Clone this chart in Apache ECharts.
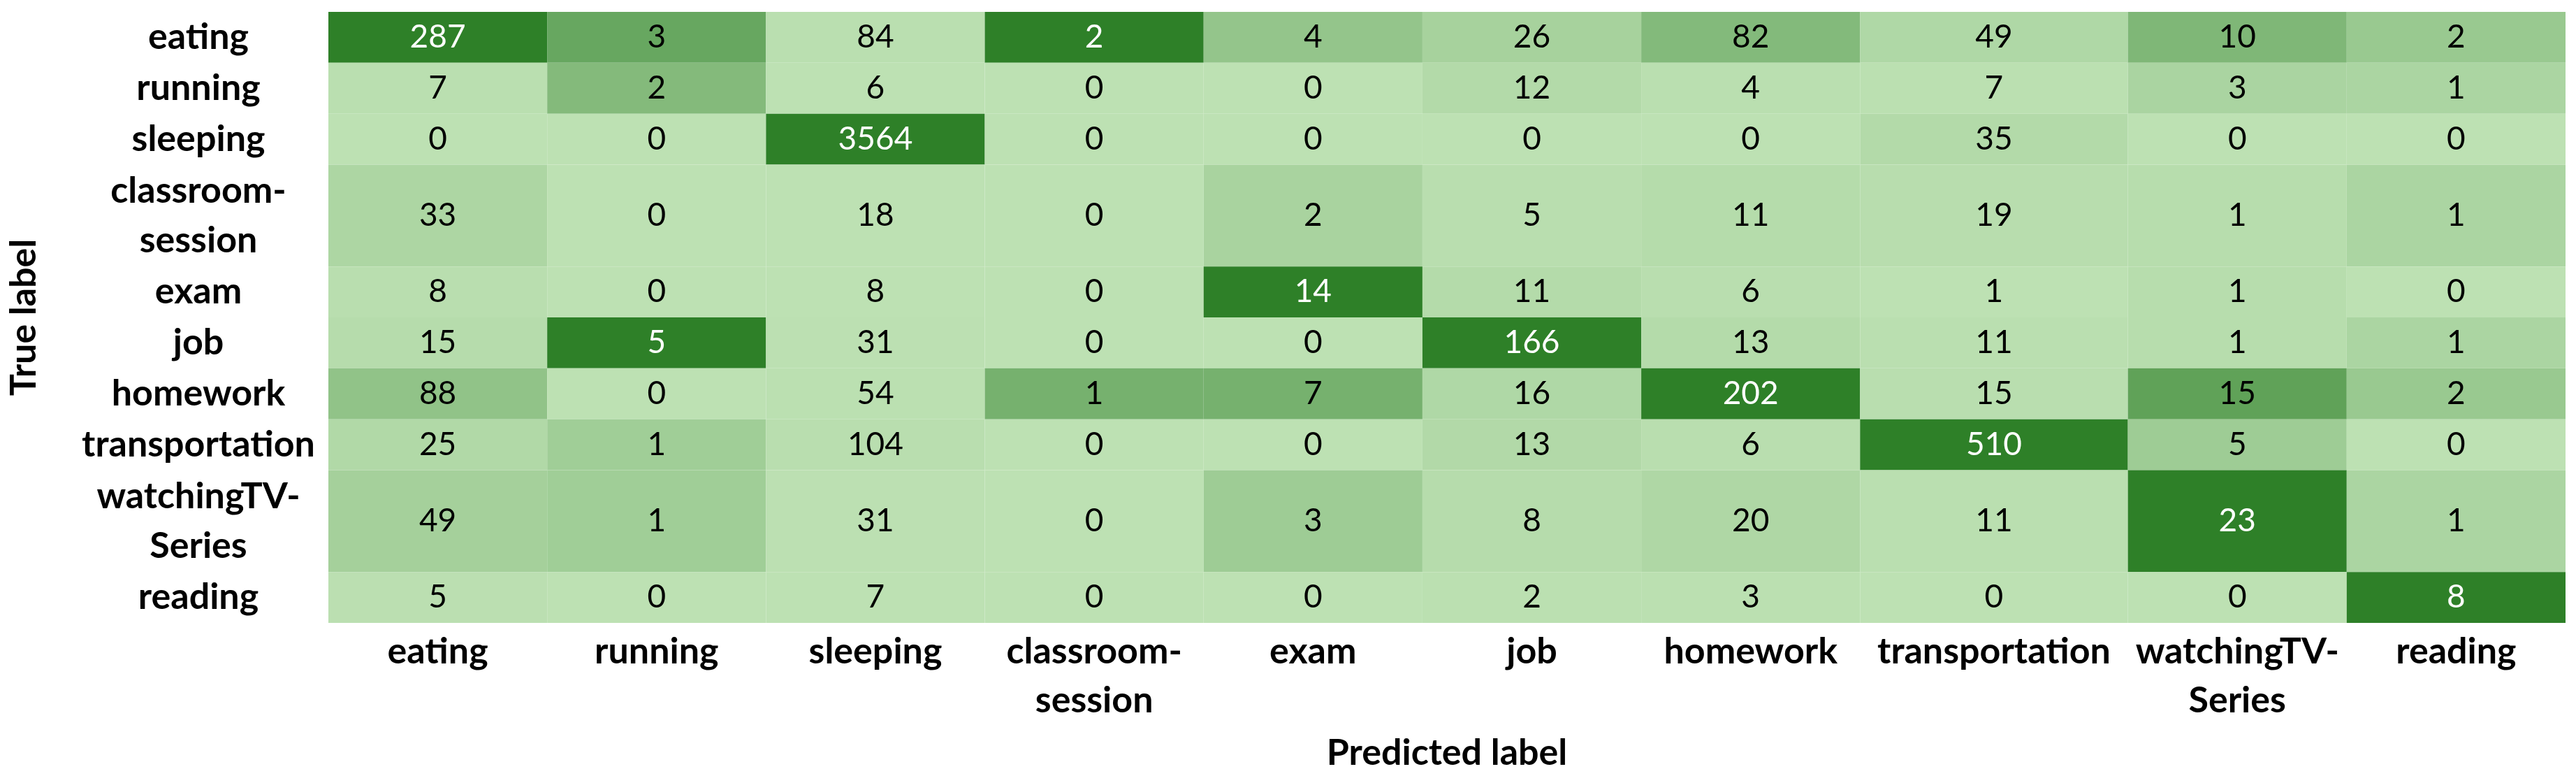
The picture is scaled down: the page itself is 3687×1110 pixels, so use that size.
<!DOCTYPE html>
<html>
<head>
<meta charset="utf-8">
<title>Confusion matrix</title>
<script src="https://cdn.jsdelivr.net/npm/echarts@6/dist/echarts.min.js"></script>
<style>
  html, body { margin: 0; padding: 0; background: #fff; }
  #main { width: 3687px; height: 1110px; }
</style>
</head>
<body>
<div id="main"></div>
<script>
// class names (rows = true label, columns = predicted label)
var classNames = ['eating', 'running', 'sleeping', 'classroom-\nsession', 'exam', 'job',
  'homework', 'transportation', 'watchingTV-\nSeries', 'reading']

// counts, one array per true label
var eating = [287, 3, 84, 2, 4, 26, 82, 49, 10, 2]
var running = [7, 2, 6, 0, 0, 12, 4, 7, 3, 1]
var sleeping = [0, 0, 3564, 0, 0, 0, 0, 35, 0, 0]
var classroomSession = [33, 0, 18, 0, 2, 5, 11, 19, 1, 1]
var exam = [8, 0, 8, 0, 14, 11, 6, 1, 1, 0]
var job = [15, 5, 31, 0, 0, 166, 13, 11, 1, 1]
var homework = [88, 0, 54, 1, 7, 16, 202, 15, 15, 2]
var transportation = [25, 1, 104, 0, 0, 13, 6, 510, 5, 0]
var watchingTVSeries = [49, 1, 31, 0, 3, 8, 20, 11, 23, 1]
var reading = [5, 0, 7, 0, 0, 2, 3, 0, 0, 8]

var counts = [eating, running, sleeping, classroomSession, exam, job,
  homework, transportation, watchingTVSeries, reading]

// cell sizes in axis units (wider transportation column, two-line rows are taller)
var colSpan = [1, 1, 1, 1, 1, 1, 1, 1.224, 1, 1]
var rowSpan = [1, 1, 1, 2, 1, 1, 1, 1, 2, 1]

function starts(spans) {
  var out = []
  var acc = 0
  spans.forEach(function (s) { out.push(acc); acc += s })
  return out
}
var colStart = starts(colSpan)
var rowStart = starts(rowSpan)
var colTotal = colStart[colStart.length - 1] + colSpan[colSpan.length - 1]
var rowTotal = rowStart[rowStart.length - 1] + rowSpan[rowSpan.length - 1]
var colCenters = colStart.map(function (s, i) { return s + colSpan[i] / 2 })
var rowCenters = rowStart.map(function (s, i) { return s + rowSpan[i] / 2 })

// colour scale runs per predicted column (min -> max)
var cells = []
for (var c = 0; c < classNames.length; c++) {
  var col = counts.map(function (row) { return row[c] })
  var lo = Math.min.apply(null, col)
  var hi = Math.max.apply(null, col)
  for (var r = 0; r < counts.length; r++) {
    var ratio = hi > lo ? (counts[r][c] - lo) / (hi - lo) : 0
    cells.push([c, r, counts[r][c], ratio])
  }
}

function nameAt(centers, value) {
  for (var i = 0; i < centers.length; i++) {
    if (Math.abs(centers[i] - value) < 1e-6) return classNames[i]
  }
  return ''
}

var labelFont = {
  fontFamily: 'Lato',
  fontWeight: 'bold',
  fontSize: 52,
  color: '#000'
}

var myChart = echarts.init(document.getElementById('main'))

myChart.setOption({
  backgroundColor: '#fff',
  animation: false,
  grid: {
    left: 470,
    right: 15,
    top: 17,
    bottom: 219
  },
  xAxis: {
    type: 'value',
    min: 0,
    max: colTotal,
    name: 'Predicted label',
    nameLocation: 'middle',
    nameGap: 160,
    nameTextStyle: labelFont,
    axisLine: { show: false },
    axisTick: { show: false },
    splitLine: { show: false },
    axisLabel: Object.assign({
      customValues: colCenters,
      margin: 6,
      lineHeight: 70,
      formatter: function (v) { return nameAt(colCenters, v) }
    }, labelFont)
  },
  yAxis: {
    type: 'value',
    inverse: true,
    min: 0,
    max: rowTotal,
    name: 'True label',
    nameLocation: 'middle',
    nameGap: 410,
    nameTextStyle: labelFont,
    axisLine: { show: false },
    axisTick: { show: false },
    splitLine: { show: false },
    axisLabel: Object.assign({
      customValues: rowCenters,
      margin: 186,
      align: 'center',
      lineHeight: 71,
      formatter: function (v) { return nameAt(rowCenters, v) }
    }, labelFont)
  },
  visualMap: {
    show: false,
    dimension: 3,
    min: 0,
    max: 1,
    seriesIndex: 0,
    inRange: { color: ['#bde1b3', '#2e8028'] }
  },
  series: [
    {
      type: 'custom',
      data: cells,
      encode: { x: 0, y: 1 },
      renderItem: function (params, api) {
        var c = api.value(0)
        var r = api.value(1)
        var p0 = api.coord([colStart[c], rowStart[r]])
        var p1 = api.coord([colStart[c] + colSpan[c], rowStart[r] + rowSpan[r]])
        return {
          type: 'rect',
          shape: { x: p0[0], y: p0[1], width: p1[0] - p0[0], height: p1[1] - p0[1] },
          style: { fill: api.visual('color') },
          textContent: {
            style: {
              text: String(api.value(2)),
              fill: api.value(3) >= 0.8 ? '#fff' : '#000',
              fontFamily: 'Lato',
              fontSize: 46
            }
          },
          textConfig: { position: 'inside' }
        }
      }
    }
  ]
})
</script>
</body>
</html>
